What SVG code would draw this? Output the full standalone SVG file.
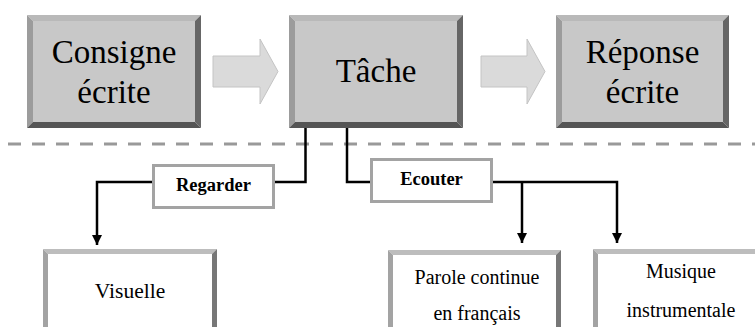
<svg xmlns="http://www.w3.org/2000/svg" width="755" height="327" viewBox="0 0 755 327">
<style>
.bt{fill:#b9b9b9}.bl{fill:#9c9c9c}.br{fill:#666}.bb{fill:#555}
.face{fill:#c8c8c8}.wface{fill:#fff}
.wt{fill:#bdbdbd}.wl{fill:#a3a3a3}.wr{fill:#777}
text{font-family:"Liberation Serif","Times New Roman",Times,"DejaVu Serif","Noto Serif",serif;fill:#000;text-anchor:middle}
.big{font-size:33px}
.mid{font-size:20px}
.vis{font-size:21.5px}
.lbl{font-size:18.5px;font-weight:bold}
.lbox{fill:#fff;stroke:#a3a3a3;stroke-width:3}
.barrow{fill:#dadada;stroke:#c4c4c4;stroke-width:1}
.conn{fill:none;stroke:#000;stroke-width:2.5}
</style>
<defs>
<marker id="ah" viewBox="0 0 10 10" refX="10" refY="5" markerWidth="4" markerHeight="4" orient="auto" markerUnits="strokeWidth">
<path d="M0,0 L10,5 L0,10 Z" fill="#000"/>
</marker>
</defs>

<line x1="8" y1="144" x2="755" y2="144" stroke="#999" stroke-width="3" stroke-dasharray="13 11"/>

<g id="arrow1">
<polygon class="barrow" points="213,56 260,56 260,39 278,71.5 260,104 260,87 213,87"/>
</g>
<g id="arrow2">
<polygon class="barrow" points="481,56 527,56 527,39 545,71.5 527,104 527,87 481,87"/>
</g>

<g id="consigne">
<rect class="face" x="33" y="21" width="162" height="101"/>
<polygon class="bt" points="27,15 201,15 195,21 33,21"/>
<polygon class="bl" points="27,15 33,21 33,122 27,128"/>
<polygon class="br" points="201,15 201,128 195,122 195,21"/>
<polygon class="bb" points="27,128 33,122 195,122 201,128"/>
<text class="big" x="114" y="63">Consigne</text>
<text class="big" x="114" y="103">écrite</text>
</g>

<g id="tache">
<rect class="face" x="295" y="21" width="162" height="101"/>
<polygon class="bt" points="289,15 463,15 457,21 295,21"/>
<polygon class="bl" points="289,15 295,21 295,122 289,128"/>
<polygon class="br" points="463,15 463,128 457,122 457,21"/>
<polygon class="bb" points="289,128 295,122 457,122 463,128"/>
<text class="big" x="376" y="82">Tâche</text>
</g>

<g id="reponse">
<rect class="face" x="562" y="21" width="161" height="101"/>
<polygon class="bt" points="556,15 729,15 723,21 562,21"/>
<polygon class="bl" points="556,15 562,21 562,122 556,128"/>
<polygon class="br" points="729,15 729,128 723,122 723,21"/>
<polygon class="bb" points="556,128 562,122 723,122 729,128"/>
<text class="big" x="642.5" y="63">Réponse</text>
<text class="big" x="642.5" y="103">écrite</text>
</g>

<g id="connectors">
<polyline class="conn" points="305.5,128 305.5,182 275,182"/>
<polyline class="conn" points="152,182 97,182 97,245" marker-end="url(#ah)"/>
<polyline class="conn" points="347,128 347,182 370,182"/>
<polyline class="conn" points="493,182 617,182 617,243" marker-end="url(#ah)"/>
<polyline class="conn" points="522,182 522,243" marker-end="url(#ah)"/>
</g>

<g id="regarder">
<rect class="lbox" x="153.5" y="165.5" width="120" height="42"/>
<text class="lbl" x="213.5" y="191">Regarder</text>
</g>
<g id="ecouter">
<rect class="lbox" x="371.5" y="159.5" width="120" height="42"/>
<text class="lbl" x="431.5" y="185">Ecouter</text>
</g>

<g id="visuelle">
<rect class="wface" x="48" y="254" width="164" height="90"/>
<polygon class="wt" points="43,249 217,249 212,254 48,254"/>
<polygon class="wl" points="43,249 48,254 48,340 43,340"/>
<polygon class="wr" points="217,249 217,340 212,340 212,254"/>
<text class="vis" x="130" y="298">Visuelle</text>
</g>

<g id="parole">
<rect class="wface" x="393" y="255" width="163" height="90"/>
<polygon class="wt" points="388,250 561,250 556,255 393,255"/>
<polygon class="wl" points="388,250 393,255 393,340 388,340"/>
<polygon class="wr" points="561,250 561,340 556,340 556,255"/>
<text class="mid" x="477" y="284">Parole continue</text>
<text class="mid" x="477" y="320">en français</text>
</g>

<g id="musique">
<rect class="wface" x="598" y="254" width="167" height="90"/>
<polygon class="wt" points="593,249 770,249 765,254 598,254"/>
<polygon class="wl" points="593,249 598,254 598,340 593,340"/>
<text class="mid" x="681" y="278">Musique</text>
<text class="mid" x="681" y="317">instrumentale</text>
</g>
</svg>
